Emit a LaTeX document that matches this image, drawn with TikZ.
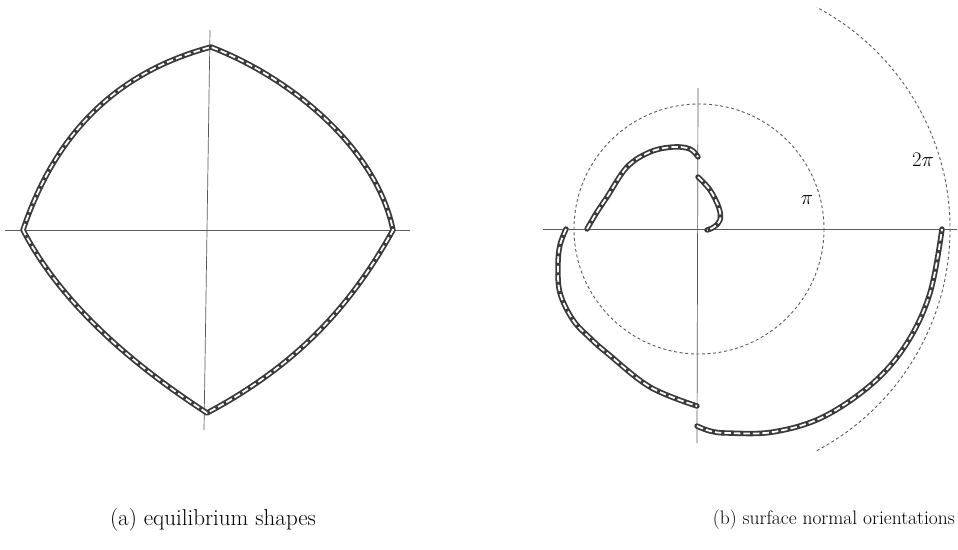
\documentclass[tikz,border=0pt]{standalone}
\begin{document}
\begin{tikzpicture}[x=1pt,y=-1pt,
  axis/.style={draw=axc, line width=0.7pt},
  ring/.style={draw=axc, line width=0.9pt, dash pattern=on 3pt off 2.6pt},
  band/.style={draw=bandc, line width=5.4pt, line cap=round, line join=round},
  bandin/.style={draw=white, line width=1.8pt, dash pattern=on 6.5pt off 3pt, preaction={band}},
  lab/.style={inner sep=0pt, font=\fontsize{20}{24}\selectfont}]
\definecolor{axc}{HTML}{5A5A5A}
\definecolor{bandc}{HTML}{3A3A3A}
\useasboundingbox (0,0) rectangle (958,549);
% ---------- (a) ----------
\draw[axis] (5,230) -- (410,230);
\draw[axis] (210,30) -- (204,430);
\draw[bandin] (23,230) .. controls (54.7,135.2) and (114.4,72.9) .. (211,47)
  .. controls (290,77.5) and (376,147) .. (393,230)
  .. controls (347.4,312.7) and (290.6,368.3) .. (207,413)
  .. controls (135.8,366.7) and (62,305.6) .. cycle;
% ---------- (b) ----------
\draw[axis] (543,229) -- (957,229);
\draw[axis] (698,88) -- (697,443);
\draw[ring] (699,229) circle[radius=125];
\draw[ring] (699,229) ++(62:251) arc[start angle=62, end angle=-62, radius=251];
\draw[bandin] plot[smooth, tension=0.6] coordinates {(587,229) (597,212) (607,197) (627,167) (650,152) (673,147) (690,149) (698,157)};
\draw[bandin] plot[smooth, tension=0.6] coordinates {(698,177) (710,190) (719,208) (720,220) (714,227) (707,230)};
\draw[bandin] plot[smooth, tension=0.6] coordinates {(566,229) (560,245) (558,265) (560,293) (573,320) (590,338) (607,353) (650,387) (697,406)};
\draw[bandin] plot[smooth, tension=0.6] coordinates {(697,426) (710,431) (727,433) (773,432) (823,417) (873,383) (907,343) (930,293) (942,229)};
\node[lab] (pi1) at (807,200) {$\pi$};
\node[lab] (pi2) at (923,160) {$2\pi$};
% ---------- captions ----------
\node[lab, font=\fontsize{23}{27}\selectfont] (capa) at (213,520) {(a) equilibrium shapes};
\node[lab, font=\fontsize{19.5}{24}\selectfont, anchor=east] (capb) at (955,520) {(b) surface normal orientations};
\end{tikzpicture}
\end{document}
